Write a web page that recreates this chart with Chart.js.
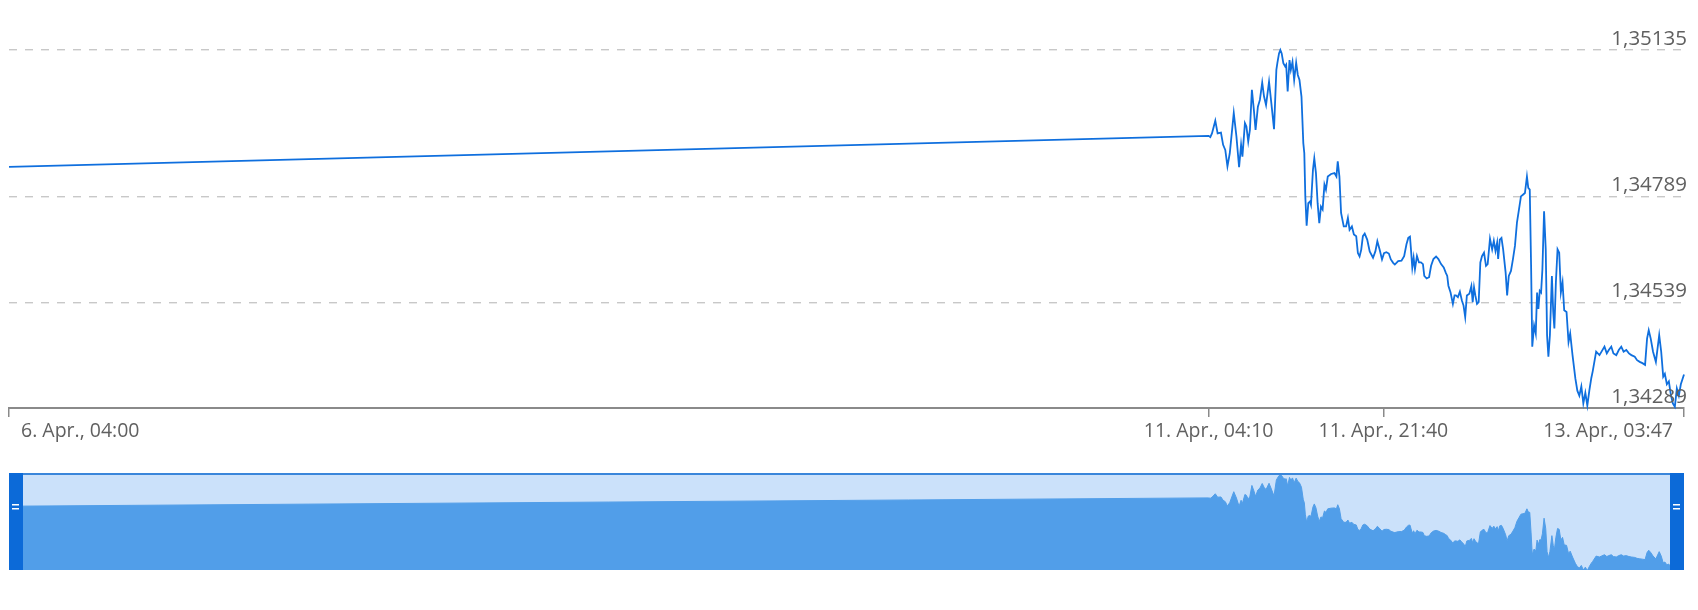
<!DOCTYPE html>
<html><head><meta charset="utf-8">
<script src="https://cdn.jsdelivr.net/npm/chart.js@4.4.1/dist/chart.umd.min.js"></script>
<style>
html,body{margin:0;padding:0;background:#fff;}
#wrap{position:relative;width:1698px;height:610px;overflow:hidden;}
#main{position:absolute;left:0;top:0;width:1698px;height:470px;}
#nav{position:absolute;left:0;top:473px;width:1698px;height:97px;}
</style></head><body>
<div id="wrap"><div id="main"><canvas id="c1"></canvas></div><div id="nav"><canvas id="c2"></canvas></div></div>
<script>
// x values are minutes after "6. Apr., 04:00"
const timeLabels = ['6. Apr., 04:00', '11. Apr., 04:10', '11. Apr., 21:40', '13. Apr., 03:47'];
const tickMinutes = [0, 7210, 8260, 10067];
const yTicks = [1.34289, 1.34539, 1.34789, 1.35135];

const openMinute = 0;
const openValue = 1.34859;
const sessionStart = 7210; // 11. Apr., 04:10
// minutes after 11. Apr., 04:10
const sessionMinutes = [0,10,20,40,54,74,87,100,113,127,151,167,183,195,203,218,227,238,248,260,272,282,296,308,322,333,345,363,377,393,407,413,423,431,439,449,460,466,475,486,494,504,514,526,536,546,558,569,575,581,589,599,609,615,627,635,645,655,665,675,685,696,705,716,736,756,768,776,786,796,812,826,837,847,861,873,887,897,907,917,927,938,953,968,988,1002,1014,1028,1042,1054,1068,1083,1095,1109,1119,1139,1159,1175,1189,1200,1210,1216,1224,1232,1240,1252,1264,1276,1288,1296,1310,1325,1337,1351,1367,1381,1397,1413,1425,1434,1441,1454,1468,1478,1486,1498,1510,1522,1532,1542,1552,1567,1579,1587,1595,1603,1613,1623,1633,1643,1655,1667,1677,1691,1704,1714,1724,1734,1740,1750,1760,1770,1785,1794,1804,1817,1829,1841,1853,1865,1877,1889,1901,1913,1921,1930,1938,1945,1956,1966,1974,1982,1990,1998,2006,2016,2026,2034,2042,2051,2063,2071,2078,2087,2097,2107,2117,2127,2137,2151,2163,2173,2187,2204,2216,2228,2240,2252,2264,2276,2288,2300,2308,2329,2349,2379,2393,2405,2420,2433,2450,2465,2480,2494,2510,2526,2541,2561,2575,2591,2607,2623,2635,2645,2657,2671,2688,2708,2720,2732,2742,2754,2766,2778,2790,2802,2814,2826,2838,2857];
const sessionValues = [1.34932,1.34929,1.34938,1.34968,1.34938,1.34940,1.34911,1.34899,1.34860,1.34891,1.34986,1.34931,1.34858,1.34911,1.34883,1.34962,1.34954,1.34919,1.34946,1.35041,1.34993,1.34946,1.35001,1.35017,1.35058,1.35025,1.35005,1.35060,1.35009,1.34948,1.35088,1.35104,1.35127,1.35135,1.35127,1.35104,1.35096,1.35100,1.35037,1.35111,1.35088,1.35107,1.35064,1.35105,1.35076,1.35064,1.35025,1.34915,1.34891,1.34789,1.34720,1.34773,1.34777,1.34769,1.34852,1.34879,1.34844,1.34773,1.34726,1.34765,1.34758,1.34817,1.34805,1.34836,1.34842,1.34844,1.34836,1.34872,1.34836,1.34750,1.34718,1.34718,1.34738,1.34710,1.34718,1.34699,1.34695,1.34655,1.34647,1.34663,1.34695,1.34701,1.34687,1.34659,1.34644,1.34659,1.34683,1.34663,1.34640,1.34655,1.34657,1.34654,1.34640,1.34632,1.34628,1.34636,1.34637,1.34648,1.34676,1.34691,1.34694,1.34664,1.34621,1.34644,1.34617,1.34648,1.34633,1.34633,1.34629,1.34601,1.34595,1.34598,1.34625,1.34641,1.34647,1.34641,1.34629,1.34621,1.34609,1.34601,1.34578,1.34562,1.34535,1.34555,1.34555,1.34551,1.34564,1.34543,1.34531,1.34504,1.34555,1.34559,1.34577,1.34539,1.34574,1.34555,1.34535,1.34539,1.34633,1.34648,1.34656,1.34625,1.34629,1.34689,1.34664,1.34684,1.34660,1.34680,1.34641,1.34687,1.34691,1.34664,1.34609,1.34555,1.34601,1.34613,1.34641,1.34672,1.34727,1.34758,1.34789,1.34793,1.34797,1.34836,1.34809,1.34805,1.34625,1.34434,1.34484,1.34465,1.34562,1.34523,1.34566,1.34562,1.34617,1.34754,1.34664,1.34461,1.34410,1.34461,1.34601,1.34516,1.34477,1.34586,1.34664,1.34656,1.34562,1.34586,1.34520,1.34516,1.34445,1.34465,1.34414,1.34359,1.34330,1.34318,1.34340,1.34300,1.34325,1.34295,1.34330,1.34360,1.34375,1.34422,1.34414,1.34434,1.34418,1.34426,1.34434,1.34418,1.34414,1.34426,1.34434,1.34422,1.34426,1.34418,1.34414,1.34410,1.34402,1.34398,1.34395,1.34391,1.34453,1.34473,1.34453,1.34422,1.34398,1.34461,1.34422,1.34363,1.34370,1.34345,1.34352,1.34320,1.34300,1.34292,1.34335,1.34318,1.34345,1.34368];

const points = [{x: openMinute, y: openValue}].concat(
  sessionMinutes.map((m, i) => ({x: sessionStart + m, y: sessionValues[i]})));

const fmtY = v => v.toFixed(5).replace('.', ',');

const labelPlugin = {
  id: 'labels',
  afterDraw(chart) {
    const ctx = chart.ctx, xs = chart.scales.x, ys = chart.scales.y, a = chart.chartArea;
    ctx.save();
    ctx.fillStyle = '#606060';
    ctx.font = '20.5px "Open Sans"';
    ctx.textAlign = 'right';
    ctx.textBaseline = 'alphabetic';
    ys.ticks.forEach(t => ctx.fillText(fmtY(t.value), a.right + 3, ys.getPixelForValue(t.value) - 5));
    ctx.font = '19.5px "Open Sans"';
    ctx.textBaseline = 'middle';
    ctx.textAlign = 'left';
    xs.ticks.forEach((t, i) => {
      const px = xs.getPixelForValue(t.value);
      const txt = timeLabels[i];
      const w = ctx.measureText(txt).width;
      let x = px - w / 2;
      if (x < a.left + 12) x = a.left + 12;
      if (x + w > a.right - 11) x = a.right - 11 - w;
      ctx.fillText(txt, x, 431);
    });
    ctx.restore();
  }
};

new Chart(document.getElementById('c1'), {
  type: 'line',
  data: { datasets: [{ data: points, borderColor: '#0f6fde', borderWidth: 1.8, pointRadius: 0, tension: 0, fill: false, clip: 4 }] },
  options: {
    responsive: true, maintainAspectRatio: false, animation: false, parsing: true,
    layout: { padding: { left: 9, right: 14, top: 50, bottom: 53 } },
    plugins: { legend: { display: false }, tooltip: { enabled: false } },
    scales: {
      x: {
        type: 'linear', min: tickMinutes[0], max: tickMinutes[tickMinutes.length - 1],
        afterBuildTicks: s => { s.ticks = tickMinutes.map(v => ({ value: v })); },
        ticks: { display: false },
        grid: { drawOnChartArea: false, drawTicks: true, tickLength: 9, color: '#8a8a8a', lineWidth: 1.5 },
        border: { display: true, color: '#8a8a8a', width: 2 }
      },
      y: {
        type: 'linear', position: 'right', min: yTicks[0], max: yTicks[yTicks.length - 1],
        afterBuildTicks: s => { s.ticks = yTicks.map(v => ({ value: v })); },
        ticks: { display: false },
        grid: { drawTicks: false, lineWidth: 1.4,
          color: c => (c.tick && c.tick.value === yTicks[0]) ? 'rgba(0,0,0,0)' : '#c8c8c8' },
        border: { display: false, dash: [8, 8] }
      }
    }
  },
  plugins: [labelPlugin]
});

const navPlugin = {
  id: 'navdeco',
  beforeDatasetsDraw(chart) {
    const ctx = chart.ctx, a = chart.chartArea;
    ctx.save();
    ctx.fillStyle = '#cbe1fa';
    ctx.fillRect(a.left, a.top, a.right - a.left, a.bottom - a.top);
    ctx.restore();
  },
  afterDraw(chart) {
    const ctx = chart.ctx, a = chart.chartArea;
    ctx.save();
    ctx.fillStyle = '#3a86da';
    ctx.fillRect(a.left, a.top, a.right - a.left, 2);
    const hw = 14;
    [a.left, a.right - hw].forEach(x => {
      ctx.fillStyle = '#0c6ad8';
      ctx.fillRect(x, a.top, hw, a.bottom - a.top);
      ctx.fillStyle = '#ffffff';
      ctx.fillRect(x + 3, a.top + 31, 7, 1.5);
      ctx.fillRect(x + 3, a.top + 35, 7, 1.5);
    });
    ctx.restore();
  }
};

new Chart(document.getElementById('c2'), {
  type: 'line',
  data: { datasets: [{ data: points, borderColor: '#519ee9', backgroundColor: '#519ee9', borderWidth: 1, pointRadius: 0, tension: 0, fill: 'start' }] },
  options: {
    responsive: true, maintainAspectRatio: false, animation: false,
    layout: { padding: { left: 9, right: 14, top: 0, bottom: 0 } },
    plugins: { legend: { display: false }, tooltip: { enabled: false } },
    scales: {
      x: { type: 'linear', min: tickMinutes[0], max: tickMinutes[tickMinutes.length - 1], display: false },
      y: { type: 'linear', min: 1.3430, max: 1.3515, display: false }
    }
  },
  plugins: [navPlugin]
});
</script>
</body></html>
